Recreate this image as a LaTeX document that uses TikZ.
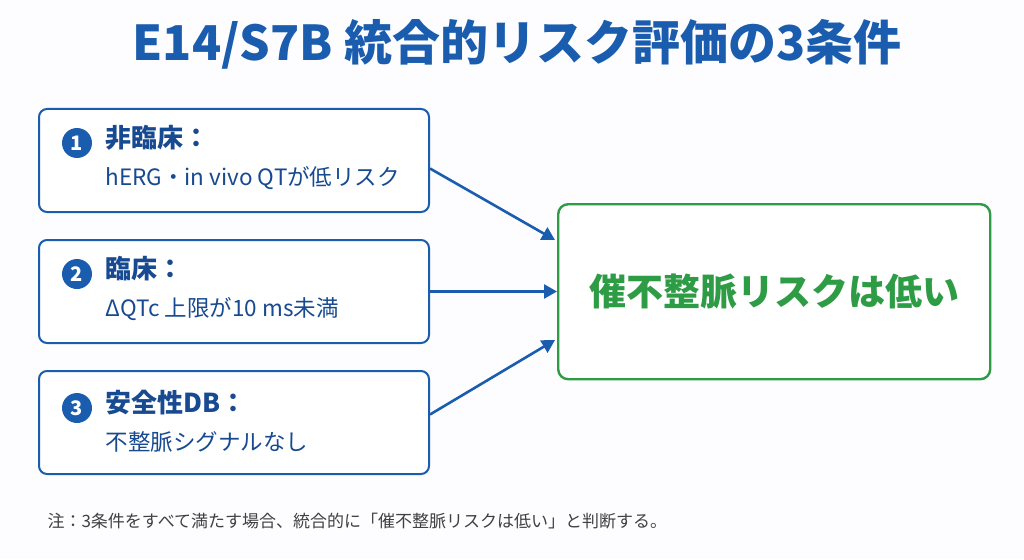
\documentclass[tikz,border=0pt]{standalone}
\usepackage{fontspec}
\setmainfont{Noto Sans CJK JP}
\usetikzlibrary{arrows.meta,positioning}
\definecolor{mblue}{HTML}{1A5DAE}
\definecolor{tblue}{HTML}{174A90}
\definecolor{mgreen}{HTML}{2E9B45}
\newcommand\headline[1]{{\bfseries\fontsize{26}{38}\selectfont #1}}
\tikzset{
  cond/.style={draw=mblue,line width=2pt,rounded corners=8pt,fill=white,minimum width=390pt,minimum height=103pt},
  num/.style={circle,fill=mblue,text=white,inner sep=0pt,minimum size=30pt,font=\bfseries\fontsize{20}{20}\selectfont},
  ctext/.style={anchor=north west,text=tblue,align=left,font=\fontsize{22.5}{38}\selectfont},
  link/.style={draw=mblue,line width=2.6pt,-{Triangle[length=13pt,width=14pt]}}
}
\begin{document}
\begin{tikzpicture}[x=1pt,y=-1pt]
\useasboundingbox[fill=white!97!blue!20] (0,0) rectangle (1024,559);

\node[text=mblue,font=\bfseries\fontsize{48}{48}\selectfont] (title) at (517,44) {E14/S7B 統合的リスク評価の3条件};

\node[cond,anchor=north west] (c1) at (38,108) {};
\node[cond,anchor=north west] (c2) at (38,239) {};
\node[cond,anchor=north west] (c3) at (38,370) {};

\node[num] (n1) at (77,143) {1};
\node[num] (n2) at (77,274) {2};
\node[num] (n3) at (77,408) {3};

\node[ctext] (t1) at (102,122) {\headline{非臨床：}\\hERG・in vivo QTが低リスク};
\node[ctext] (t2) at (102,253) {\headline{臨床：}\\ΔQTc 上限が10 ms未満};
\node[ctext] (t3) at (102,387) {\headline{安全性DB：}\\不整脈シグナルなし};

\node[draw=mgreen,line width=2.4pt,rounded corners=10pt,fill=white,minimum width=432pt,minimum height=175pt,anchor=north west,text=mgreen,font=\bfseries\fontsize{37}{37}\selectfont] (res) at (557,203) {催不整脈リスクは低い};

\coordinate (e1) at (555,240);
\coordinate (e3) at (555,340);
\draw[link] (c1.east) ++(0,8) -- (e1);
\draw[link] (c2.east) -- (c2.east -| res.west);
\draw[link] (c3.east) ++(0,-8) -- (e3);

\node[anchor=west,text=black!75,font=\fontsize{17}{17}\selectfont] (note) at (44,521) {注：3条件をすべて満たす場合、統合的に「催不整脈リスクは低い」と判断する。};
\end{tikzpicture}
\end{document}
